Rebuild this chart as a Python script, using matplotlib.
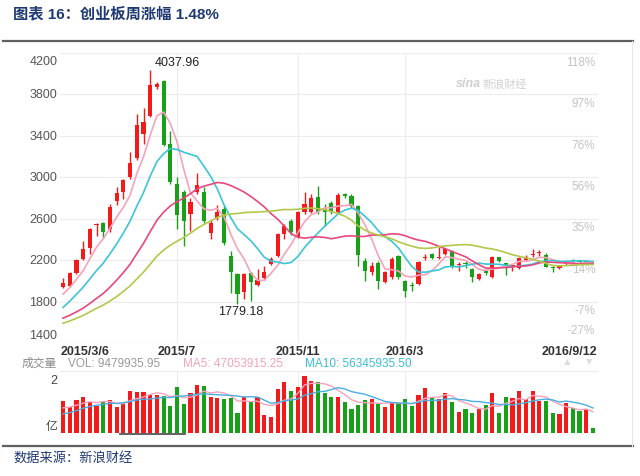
import numpy as np
import pandas as pd
import matplotlib.pyplot as plt
import matplotlib.transforms as mtransforms
from matplotlib.lines import Line2D

plt.rcParams['font.family'] = ['Liberation Sans', 'Noto Sans CJK SC']

# weekly candles of the ChiNext index, 2015/3/6 .. 2016/9/12
opens = [1945, 1955, 2075, 2214, 2321, 2535, 2561, 2496, 2775, 2861,
         3007, 3185, 3416, 3591, 3870, 3928, 3320, 2937, 2861, 2649,
         2859, 2859, 2463, 2604, 2697, 2236, 2065, 1888, 2074, 1958,
         2023, 2161, 2240, 2451, 2580, 2419, 2661, 2661, 2806, 2693,
         2751, 2661, 2838, 2821, 2719, 2193, 2081, 2171, 1985, 2033,
         2236, 2000, 1955, 1968, 2219, 2258, 2225, 2258, 2290, 2150,
         2170, 2113, 2016, 2097, 2039, 2226, 2168, 2140, 2123, 2200,
         2250, 2265, 2252, 2135, 2125, 2165, 2205, 2193, 2175, 2180]
highs = [2025, 2085, 2215, 2386, 2510, 2555, 2570, 2740, 2911, 2985,
         3248, 3607, 3669, 4037.96, 3920, 3935, 3445, 3007, 2880, 2800,
         3040, 2904, 2585, 2730, 2720, 2290, 2080, 2075, 2090, 2113,
         2140, 2230, 2460, 2545, 2600, 2670, 2854, 2838, 2918, 2741,
         2770, 2848, 2850, 2835, 2730, 2225, 2180, 2190, 2100, 2230,
         2250, 2010, 1990, 2190, 2258, 2265, 2323, 2320, 2300, 2178,
         2190, 2125, 2080, 2110, 2240, 2235, 2175, 2165, 2230, 2245,
         2306, 2300, 2270, 2140, 2155, 2200, 2215, 2200, 2200, 2185]
lows = [1935, 1945, 2065, 2205, 2262, 2435, 2410, 2470, 2732, 2794,
        2981, 3170, 3325, 3580, 3855, 3300, 2940, 2496, 2334, 2480,
        2840, 2560, 2405, 2590, 2350, 1880, 1779.18, 1823, 1807, 1950,
        2010, 2150, 2230, 2403, 2440, 2410, 2650, 2655, 2644, 2526,
        2650, 2655, 2800, 2700, 2145, 2000, 2060, 1920, 1975, 2020,
        2020, 1840, 1900, 1960, 2200, 2215, 2210, 2250, 2120, 2097,
        2120, 1985, 2005, 2060, 2030, 2185, 2060, 2100, 2115, 2190,
        2235, 2240, 2130, 2090, 2115, 2150, 2180, 2170, 2165, 2170]
closes = [1975, 2075, 2205, 2308, 2500, 2548, 2470, 2717, 2846, 2969,
          3138, 3507, 3532, 3889, 3905, 3316, 2956, 2632, 2577, 2765,
          2924, 2577, 2560, 2668, 2367, 2087, 1872, 2065, 1985, 2013,
          2087, 2213, 2451, 2531, 2468, 2661, 2741, 2796, 2661, 2661,
          2667, 2828, 2815, 2719, 2248, 2097, 2145, 2000, 2087, 2210,
          2033, 1904, 1950, 2178, 2232, 2219, 2232, 2306, 2130, 2161,
          2160, 2033, 2071, 2080, 2226, 2193, 2150, 2150, 2219, 2235,
          2258, 2275, 2135, 2122, 2145, 2190, 2190, 2180, 2190, 2178]
# weekly volume, 亿 (as drawn on the panel scale)
volumes = [1.01, 0.82, 1.05, 1.14, 0.98, 0.87, 1.00, 1.05, 0.82, 0.95,
           1.36, 1.33, 1.33, 1.22, 1.22, 1.20, 0.87, 1.47, 0.92, 1.28,
           1.55, 1.52, 1.14, 1.12, 1.09, 1.11, 0.65, 1.17, 1.00, 1.17,
           0.57, 0.49, 1.41, 1.63, 1.36, 1.47, 1.85, 1.68, 1.63, 1.28,
           1.14, 1.14, 0.98, 0.78, 0.90, 1.05, 1.09, 0.92, 0.82, 0.96,
           0.96, 1.09, 0.85, 1.22, 1.45, 1.12, 1.09, 1.28, 1.00, 0.68,
           0.78, 0.65, 0.78, 0.90, 1.28, 0.65, 1.14, 1.11, 1.34, 1.09,
           1.34, 1.01, 1.01, 0.62, 0.60, 0.96, 0.79, 0.71, 0.76, 0.16]

# weeks before 2015/3/6 -- not drawn, only feed the moving averages
prior_closes = [1420, 1440, 1470, 1480, 1500, 1540, 1560, 1530, 1480, 1510,
                1520, 1560, 1580, 1590, 1560, 1530, 1500, 1480, 1510, 1540,
                1470, 1540, 1620, 1700, 1740, 1760, 1810, 1885, 1929]
prior_volumes = [0.35, 0.40, 0.38, 0.42, 0.45, 0.70, 0.75, 0.80, 0.75]

date_ticks = [0, 17, 35, 51, 79]
date_labels = ['2015/3/6', '2015/7', '2015/11', '2016/3', '2016/9/12']
price_ticks = [1400, 1800, 2200, 2600, 3000, 3400, 3800, 4200]
pct_labels = ['-27%', '-7%', '14%', '35%', '56%', '76%', '97%', '118%']

ma_colors = {5: '#f5a3ba', 10: '#3cc5d6', 20: '#e8487e', 30: '#b3c84a'}
RED, GREEN = '#f21a1a', '#18a018'

n = len(closes)
x = np.arange(n)
o, h, l, c = map(np.array, (opens, highs, lows, closes))
up = c >= o
colors = np.where(up, RED, GREEN)

fig = plt.figure(figsize=(6.4, 4.77), dpi=100)
W, H = 640, 477


def _box(x0, y0, x1, y1):
    # pixel box (top-left origin) -> figure fraction rect
    return [x0 / W, 1 - y1 / H, (x1 - x0) / W, (y1 - y0) / H]


ax = fig.add_axes(_box(60, 54, 598, 344))
axv = fig.add_axes(_box(60, 372, 598, 433.5))

for a in (ax, axv):
    a.set_xlim(-0.45, n - 1 + 0.75)
    for s in a.spines.values():
        s.set_visible(False)
    a.set_xticks([])
    a.set_yticks([])
    for t in date_ticks[1:4]:
        a.axvline(t, color='#ececec', lw=0.8, zorder=0)

# price panel
ax.set_ylim(1400, 4200)
for p in price_ticks:
    ax.axhline(p, color='#ececec', lw=0.8, zorder=0)

ytrans = mtransforms.blended_transform_factory(ax.transAxes, ax.transData)
for i, (p, pl) in enumerate(zip(price_ticks, pct_labels)):
    dy = 0
    if i == 0:
        dy = 6
    elif i == len(price_ticks) - 1:
        dy = -6
    ax.annotate(str(p), xy=(0, p), xycoords=ytrans, xytext=(-2, dy),
                textcoords='offset points', ha='right', va='center',
                fontsize=9, color='#555555', annotation_clip=False)
    if i == 0:
        ax.annotate(pl, xy=(1, p), xycoords=ytrans, xytext=(-2, 5),
                    textcoords='offset points', ha='right', va='bottom',
                    fontsize=8.5, color='#c4c4c4', zorder=1)
    else:
        ax.annotate(pl, xy=(1, p), xycoords=ytrans, xytext=(-2, -2),
                    textcoords='offset points', ha='right', va='top',
                    fontsize=8.5, color='#c4c4c4', zorder=1)

# sina watermark
ax.text(0.782, 0.895, 'sina', transform=ax.transAxes, fontsize=9, color='#d0d0d0',
        style='italic', fontweight='bold', ha='right', va='center')
ax.text(0.785, 0.895, '新浪财经', transform=ax.transAxes, fontsize=8, color='#d0d0d0',
        ha='left', va='center')

ax.vlines(x, l, h, colors=colors, lw=1, zorder=2)
ax.bar(x, np.maximum(np.abs(c - o), 8), bottom=np.minimum(o, c), width=0.62,
       color=colors, zorder=3)

all_closes = pd.Series(prior_closes + closes)
for win, col in ma_colors.items():
    ma = all_closes.rolling(win).mean().iloc[len(prior_closes):].values
    ax.plot(x, ma, color=col, lw=1.2, zorder=4)

i_hi = int(np.argmax(h))
i_lo = int(np.argmin(l))
ax.annotate(f'{h[i_hi]:.2f}', xy=(i_hi, h[i_hi]), xytext=(3, 1),
            textcoords='offset points', ha='left', va='bottom', fontsize=9,
            color='#222222', annotation_clip=False)
ax.annotate(f'{l[i_lo]:.2f}', xy=(i_lo, l[i_lo]), xytext=(2, -1),
            textcoords='offset points', ha='center', va='top', fontsize=9,
            color='#222222')

# date labels under the price panel
xtrans = mtransforms.blended_transform_factory(ax.transData, ax.transAxes)
for t, lab in zip(date_ticks, date_labels):
    ha = 'center'
    xt = t
    if t == date_ticks[0]:
        ha, xt = 'left', -0.35
    elif t == date_ticks[-1]:
        ha, xt = 'right', n - 1 + 0.6
    ax.text(xt, -0.028, lab, transform=xtrans, ha=ha, va='center',
            fontsize=9, fontweight='bold', color='#333333')

# volume panel
axv.set_ylim(0, 2)
axv.axhline(2, color='#ececec', lw=0.8, zorder=0)
axv.bar(x, volumes, width=0.62, color=colors, zorder=2)
all_vols = pd.Series(prior_volumes + volumes)
vma5 = all_vols.rolling(5).mean().iloc[len(prior_volumes):].values
vma10 = all_vols.rolling(10).mean().iloc[len(prior_volumes):].values
axv.plot(x, vma5, color='#f5a3ba', lw=1, zorder=3)
axv.plot(x, vma10, color='#4aaee0', lw=1, zorder=3)
axv.text(-0.005, 0.86, '2', transform=axv.transAxes, ha='right', va='center',
         fontsize=9, color='#444444')
axv.text(-0.005, 0.1, '亿', transform=axv.transAxes, ha='right', va='center',
         fontsize=8.5, color='#444444')

leg_y = 1 - 364 / H
fig.text(22 / W, leg_y, '成交量', fontsize=8.5, color='#8a8a8a', va='center')
fig.text(68 / W, leg_y, 'VOL: 9479935.95', fontsize=8.5, color='#9a9a9a', va='center')
fig.text(183 / W, leg_y, 'MA5: 47053915.25', fontsize=8.5, color='#f5a3ba', va='center')
fig.text(305 / W, leg_y, 'MA10: 56345935.50', fontsize=8.5, color='#3cbcd8', va='center')
fig.text(567 / W, 1 - 362 / H, '▲', family='DejaVu Sans', fontsize=6, color='#dddddd',
         ha='center', va='center')
fig.text(589 / W, 1 - 362 / H, '▼', family='DejaVu Sans', fontsize=6, color='#dddddd',
         ha='center', va='center')
fig.add_artist(Line2D([120 / W, 185 / W], [1 - 434.5 / H] * 2, color='#555555', lw=1.3))

# report frame: title, rules, source
fig.text(13 / W, 1 - 14 / H, '图表 16：创业板周涨幅 1.48%', fontsize=11, fontweight='bold',
         color='#1f3a72', va='center', ha='left')
fig.add_artist(Line2D([3 / W, 633 / W], [1 - 42 / H] * 2, color='#606060', lw=1.6))
fig.add_artist(Line2D([3 / W, 633 / W], [1 - 447 / H] * 2, color='#606060', lw=1.6))
fig.add_artist(Line2D([632 / W, 632 / W], [1 - 447 / H, 1 - 42 / H], color='#e6e6e6', lw=0.8))
fig.text(13 / W, 1 - 459 / H, '数据来源：新浪财经', fontsize=9.5, color='#1f3a72',
         va='center', ha='left')

fig.savefig('out.png', dpi=100)
